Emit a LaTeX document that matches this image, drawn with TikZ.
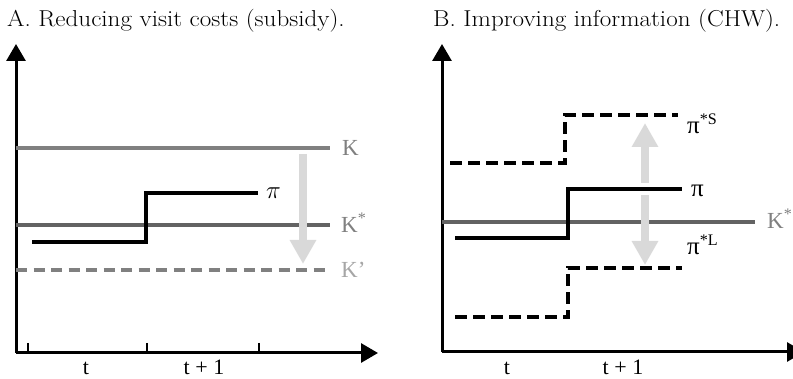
\documentclass[tikz,border=0pt]{standalone}
\usepackage{fontspec}
\newfontfamily\tnr{Liberation Serif}
\newfontfamily\ttl{Latin Modern Roman}[FakeStretch=1.09]
\usetikzlibrary{arrows.meta}
\definecolor{kgray}{HTML}{808080}
\definecolor{kdark}{HTML}{636363}
\definecolor{klight}{HTML}{A6A6A6}
\definecolor{arrgray}{HTML}{D9D9D9}
\newcommand{\bigpi}{{\fontsize{25}{26}\selectfont π}}
\tikzset{
  axis/.style={line width=3pt,-{Triangle[length=17pt,width=19pt]}},
  tick/.style={line width=1.5pt},
  kline/.style={line width=3.5pt,color=kgray},
  kstar/.style={line width=3.5pt,color=kdark},
  kprime/.style={line width=3.5pt,color=kgray,dash pattern=on 11pt off 6.5pt},
  pisolid/.style={line width=4pt,black},
  pidash/.style={line width=4pt,black,dash pattern=on 12pt off 6pt},
  bigarrow/.style={line width=8pt,color=arrgray,-{Triangle[length=24pt,width=25pt]}},
  title/.style={inner sep=0pt,anchor=base west,font=\ttl\fontsize{23}{26}\selectfont},
  lab/.style={inner sep=0pt,anchor=base west,font=\tnr\fontsize{23}{26}\selectfont},
  tlab/.style={inner sep=0pt,anchor=base,font=\tnr\fontsize{22}{26}\selectfont},
}
\begin{document}
\begin{tikzpicture}[x=1pt,y=-1pt]
\useasboundingbox (0,0) rectangle (793,379);
% ---------- Panel A ----------
\node[title] (tA) at (7,27) {A. Reducing visit costs (subsidy).};
\coordinate (oA) at (16,353);
\coordinate (yA) at (16,44);
\coordinate (xA) at (378,353);
\draw[axis] (oA) -- (yA);
\draw[axis] (oA) -- (xA);
\foreach \x in {28,147,259} \draw[tick] (\x,343) -- (\x,353);
\node[tlab] (tA1) at (86,374) {t};
\node[tlab] (tA2) at (204,374) {t + 1};
% K lines
\coordinate (kA1) at (16,148); \coordinate (kA2) at (330,148);
\coordinate (ksA1) at (16,225); \coordinate (ksA2) at (330,225);
\coordinate (kpA1) at (16,270); \coordinate (kpA2) at (330,270);
\draw[kline] (kA1) -- (kA2);
\draw[kstar] (ksA1) -- (ksA2);
\draw[kprime] (kpA1) -- (kpA2);
\node[lab,text=kgray] (lK) at (342,155.5) {K};
\node[lab,text=kgray] (lKs) at (341,232.5) {K\textsuperscript{*}};
\node[lab,text=klight] (lKp) at (341,277.5) {K’};
% arrow
\coordinate (aA1) at (303,154); \coordinate (aA2) at (303,264);
\draw[bigarrow] (aA1) -- (aA2);
% pi step
\coordinate (pA1) at (32,242); \coordinate (pA2) at (146,242);
\coordinate (pA3) at (146,193); \coordinate (pA4) at (258,193);
\draw[pisolid] (pA1) -- (pA2) -- (pA3) -- (pA4);
\node[inner sep=0pt,anchor=base west,font=\fontsize{23}{26}\selectfont] (lpiA) at (266,199) {$\pi$};
% ---------- Panel B ----------
\node[title] (tB) at (433,27) {B. Improving information (CHW).};
\coordinate (oB) at (442,352);
\coordinate (yB) at (442,44);
\coordinate (xB) at (804,352);
\draw[axis] (oB) -- (yB);
\draw[axis] (oB) -- (xB);
\node[tlab] (tB1) at (507,374) {t};
\node[tlab] (tB2) at (623,374) {t + 1};
\coordinate (ksB1) at (442,222); \coordinate (ksB2) at (755,222);
\draw[kstar] (ksB1) -- (ksB2);
\node[lab,text=kgray] (lKsB) at (767,228.5) {K\textsuperscript{*}};
% pi solid
\coordinate (pB1) at (455,238); \coordinate (pB2) at (568,238);
\coordinate (pB3) at (568,189); \coordinate (pB4) at (682,189);
\draw[pisolid] (pB1) -- (pB2) -- (pB3) -- (pB4);
\node[lab] (lpiB) at (691,197) {\bigpi};
% pi*S
\coordinate (sB1) at (450,163); \coordinate (sB2) at (565,163);
\coordinate (sB3) at (565,115); \coordinate (sB4) at (678,115);
\draw[pidash] (sB1) -- (sB2) -- (sB3) -- (sB4);
\node[lab] (lpiS) at (687,133.5) {\bigpi\textsuperscript{*S}};
% pi*L
\coordinate (lB1) at (455,317); \coordinate (lB2) at (568,317);
\coordinate (lB3) at (568,268); \coordinate (lB4) at (682,268);
\draw[pidash] (lB1) -- (lB2) -- (lB3) -- (lB4);
\node[lab] (lpiL) at (687,255) {\bigpi\textsuperscript{*L}};
% arrows
\coordinate (uB1) at (645,183); \coordinate (uB2) at (645,123);
\coordinate (dB1) at (645,195); \coordinate (dB2) at (645,265);
\draw[bigarrow] (uB1) -- (uB2);
\draw[bigarrow] (dB1) -- (dB2);
\end{tikzpicture}
\end{document}
